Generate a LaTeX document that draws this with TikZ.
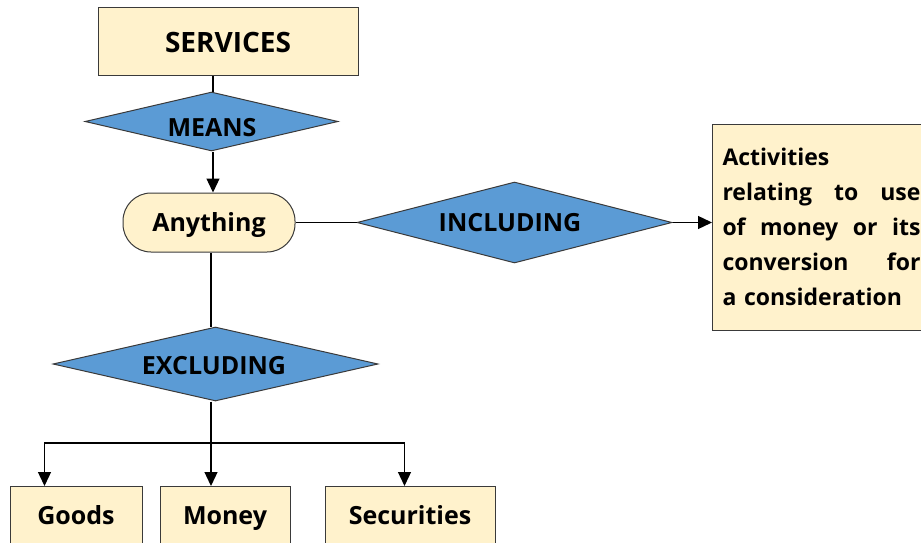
\documentclass[tikz,border=0pt]{standalone}
\usepackage{fontspec}
\setmainfont{Open Sans}
\usetikzlibrary{shapes.geometric,arrows.meta,calc}
\definecolor{cream}{HTML}{FFF2CC}
\definecolor{dblue}{HTML}{5B9BD5}
\definecolor{edge}{HTML}{3A3A3A}
\newcommand\jline[1]{\leavevmode\hbox to 198pt{#1}}
\begin{document}
\begin{tikzpicture}[x=1pt,y=-1pt,
  box/.style={draw=edge,line width=1pt,fill=cream,inner sep=0pt,font=\fontsize{25}{30}\selectfont\bfseries},
  dia/.style={diamond,draw=edge,line width=1pt,fill=dblue,inner sep=0pt,aspect=3,font=\fontsize{25}{30}\selectfont\bfseries},
  lbl/.style={font=\fontsize{25}{30}\selectfont\bfseries},
  conn/.style={line width=1.3pt,black},
  arr/.style={conn,-{Triangle[length=14pt,width=13pt]}}]
\useasboundingbox (0,0) rectangle (921,543);
\node[box,minimum width=260pt,minimum height=68pt,font=\fontsize{28}{32}\selectfont\bfseries] (services) at (228,42) {SERVICES};
\node[dia,minimum width=253pt,minimum height=59pt] (means) at (211.5,121.5) {};
\node[lbl] (meanslbl) at (212,128) {MEANS};
\node[box,rounded corners=28pt,minimum width=172pt,minimum height=59pt,text height=18pt,text depth=0pt] (anything) at (209,222.5) {Anything};
\node[dia,minimum width=315pt,minimum height=81pt] (including) at (514.5,222.5) {};
\node[lbl] (includinglbl) at (510,223) {INCLUDING};
\node[box,minimum width=218pt,minimum height=206pt,text width=198pt,inner xsep=10pt,align=left,anchor=west,font=\fontsize{23}{35}\selectfont\bfseries] (act) at (712,227)
  {Activities\\
   \jline{relating\hfill to\hfill use}\\
   \jline{of\hfill money\hfill or\hfill its}\\
   \jline{conversion\hfill for}\\
   a consideration};
\node[dia,minimum width=325pt,minimum height=74pt] (excluding) at (215.5,364) {};
\node[lbl] (excludinglbl) at (214,366) {EXCLUDING};
\node[box,minimum width=132pt,minimum height=64pt,anchor=north,text height=18pt,text depth=6pt] (goods) at (76,486) {Goods};
\node[box,minimum width=130pt,minimum height=64pt,anchor=north,text height=18pt,text depth=6pt] (money) at (225,486) {Money};
\node[box,minimum width=170pt,minimum height=64pt,anchor=north,text height=18pt,text depth=6pt] (securities) at (410,486) {Securities};
\draw[conn] (services.south -| 213,0) -- (means.north -| 213,0);
\draw[arr] ($(means.south)+(1.5,0)$) -- ($(anything.north)+(4,0)$);
\draw[conn] (anything.east) -- (including.west);
\draw[arr] (including.east) -- (act.west |- including.east);
\draw[conn] ($(anything.south)+(2,0)$) -- (excluding.north -| 211,0);
\coordinate (bus) at (211,443);
\draw[conn] (excluding.south -| bus) -- (bus);
\draw[arr] (bus) -| ([xshift=35pt]goods.north west);
\draw[arr] (bus) -- (bus |- money.north);
\draw[arr] (bus) -| ([xshift=80pt]securities.north west);
\end{tikzpicture}
\end{document}
